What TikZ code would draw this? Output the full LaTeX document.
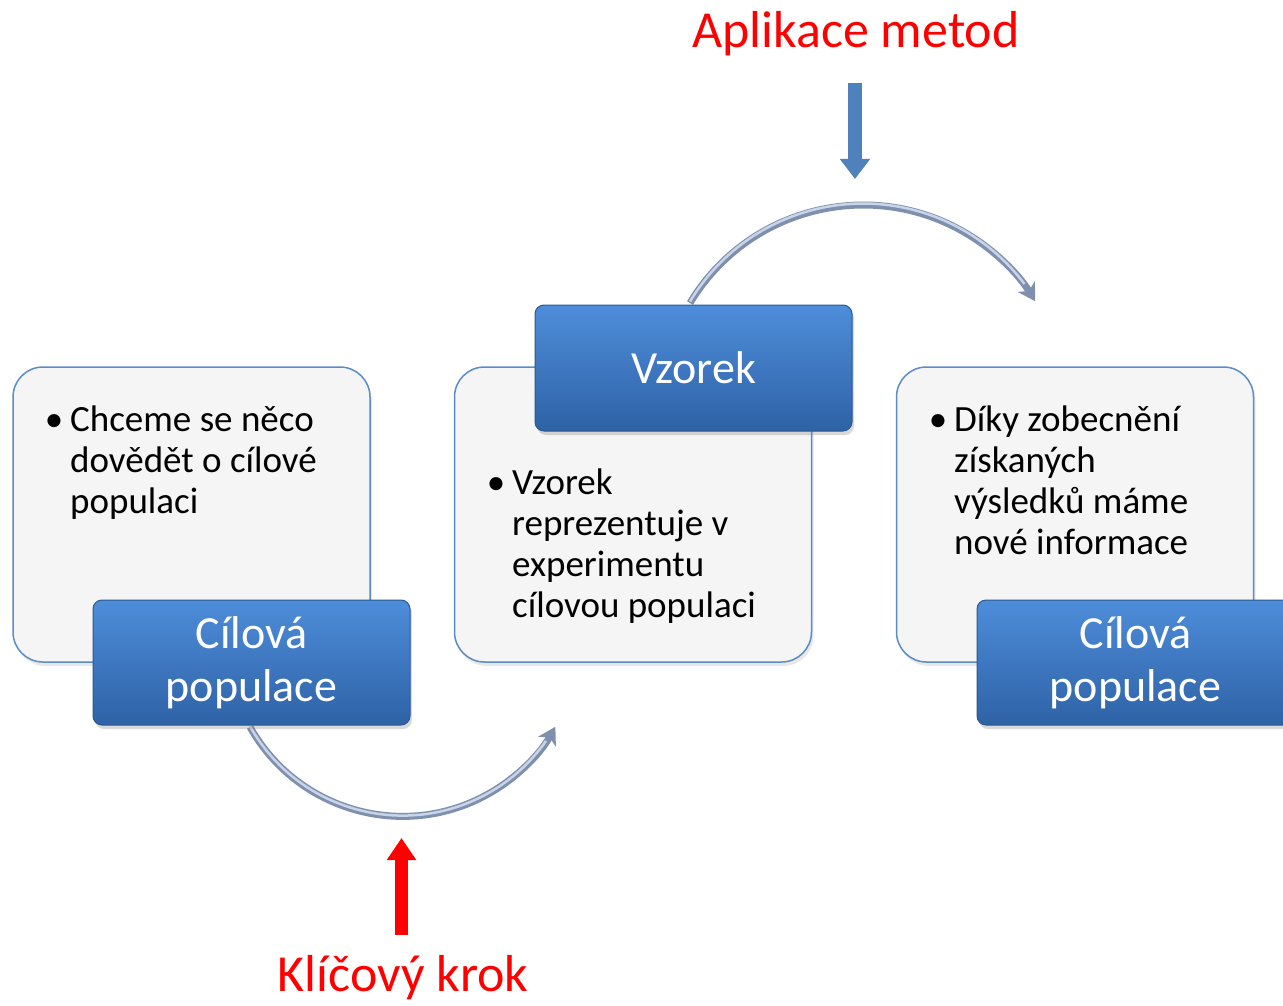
\documentclass[tikz,border=0pt]{standalone}
\usepackage{fontspec}
\setmainfont{Carlito}
\usetikzlibrary{arrows.meta,shadows}
\definecolor{lightfill}{HTML}{F5F5F5}
\definecolor{lightborder}{HTML}{5B8CC8}
\definecolor{bluetop}{HTML}{4E8DDA}
\definecolor{bluebot}{HTML}{2E62A6}
\definecolor{blueborder}{HTML}{2A5890}
\definecolor{arcdark}{HTML}{7F90AE}
\definecolor{arclight}{HTML}{C8D4E8}
\definecolor{ptr}{HTML}{4F81BD}
\tikzset{
  lightbox/.style={draw=lightborder, line width=1.5pt, fill=lightfill, rounded corners=30pt,
    minimum width=357pt, minimum height=295pt, inner sep=0pt,
    drop shadow={opacity=0.18, shadow xshift=2pt, shadow yshift=-4pt}},
  bluebox/.style={draw=blueborder, line width=1pt, top color=bluetop, bottom color=bluebot,
    rounded corners=9pt, minimum width=317pt, minimum height=125pt, inner sep=0pt,
    text=white, align=center, font=\fontsize{46}{53}\selectfont,
    drop shadow={opacity=0.3, shadow xshift=2pt, shadow yshift=-4pt}},
  bodytext/.style={anchor=base west, align=left, inner sep=0pt, font=\fontsize{37}{41}\selectfont},
  cyclearc/.style={draw=arcdark, line width=7pt, -{Stealth[length=17pt,width=20pt,inset=5pt]}},
  arcshine/.style={draw=arclight, line width=2.5pt},
  redlabel/.style={text=red, inner sep=0pt, font=\fontsize{52}{60}\selectfont},
}
\begin{document}
\begin{tikzpicture}[x=1pt,y=-1pt]
\useasboundingbox (0,0) rectangle (1283,1006);
% arcs (behind boxes)
\coordinate (a1s) at (250,727);
\coordinate (a2s) at (690,303);
\draw[cyclearc] (a1s) arc[start angle=150.7, end angle=29.2, radius=175] coordinate (a1e);
\draw[arcshine] ([yshift=0.8pt]a1s) arc[start angle=150.7, end angle=35, radius=175];
\draw[cyclearc] (a2s) arc[start angle=-149, end angle=-31.6, radius=202] coordinate (a2e);
\draw[arcshine] ([yshift=1.5pt]a2s) arc[start angle=-149, end angle=-37, radius=202];
% light boxes
\node[lightbox] (L1) at (191.5,514.5) {};
\node[lightbox] (L2) at (633,514.5) {};
\node[lightbox] (L3) at (1075,514.5) {};
% body texts (anchor at the last line's baseline)
\node[bodytext] (t1) at (70,513) {\llap{\textbullet\hspace{7pt}}Chceme se něco\\dovědět o cílové\\populaci};
\node[bodytext] (t2) at (512,617) {\llap{\textbullet\hspace{7pt}}Vzorek\\reprezentuje v\\experimentu\\cílovou populaci};
\node[bodytext] (t3) at (954,554) {\llap{\textbullet\hspace{7pt}}Díky zobecnění\\získaných\\výsledků máme\\nové informace};
% blue boxes
\node[bluebox] (B1) at (251.5,662.5) {Cílová\\populace};
\node[bluebox, minimum height=126pt] (B2) at (693.5,368) {Vzorek};
\node[bluebox] (B3) at (1135.5,662.5) {Cílová\\populace};
% pointer arrows
\coordinate (p1s) at (855,83);
\coordinate (p1e) at (855,179);
\draw[ptr, line width=14pt, -{Triangle[length=20pt,width=29pt]}] (p1s) -- (p1e);
\coordinate (p2s) at (401.5,935);
\coordinate (p2e) at (401.5,838);
\draw[red, line width=13pt, -{Triangle[length=22pt,width=28pt]}] (p2s) -- (p2e);
% red labels
\node[redlabel, anchor=base] (lab1) at (856,48) {Aplikace metod};
\node[redlabel, anchor=base] (lab2) at (403,991) {Klíčový krok};
\end{tikzpicture}
\end{document}
